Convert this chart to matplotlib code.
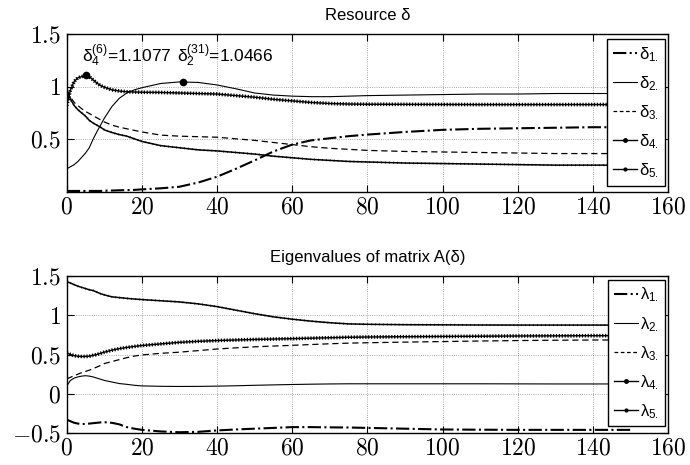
import matplotlib
matplotlib.use("Agg")
import matplotlib.pyplot as plt
from matplotlib.lines import Line2D
from matplotlib.ticker import FuncFormatter

# shared time axis (steps)
x = [0, 1, 2, 3, 4, 5, 6, 7, 8, 9, 10, 12, 14, 16, 18, 20, 25, 30, 35, 40,
     45, 50, 55, 60, 65, 70, 75, 80, 90, 100, 110, 120, 130, 140, 150]

# resource delta
d1 = [0.01, 0.01, 0.01, 0.01, 0.01, 0.01, 0.01, 0.01, 0.01, 0.01, 0.012, 0.014, 0.016, 0.018, 0.02,
      0.025, 0.035, 0.05, 0.09, 0.145, 0.22, 0.30, 0.385, 0.45, 0.49, 0.51, 0.53, 0.545, 0.57,
      0.59, 0.60, 0.605, 0.61, 0.615, 0.615]
d2 = [0.22, 0.24, 0.26, 0.29, 0.33, 0.37, 0.42, 0.50, 0.57, 0.635, 0.70, 0.81, 0.89, 0.94, 0.97,
      0.99, 1.03, 1.045, 1.04, 1.016, 0.98, 0.94, 0.92, 0.91, 0.905, 0.905, 0.91, 0.915, 0.92,
      0.925, 0.93, 0.93, 0.935, 0.935, 0.935]
d3 = [0.97, 0.90, 0.85, 0.82, 0.79, 0.765, 0.745, 0.725, 0.705, 0.685, 0.665, 0.635, 0.615, 0.60,
      0.585, 0.57, 0.54, 0.53, 0.525, 0.52, 0.505, 0.49, 0.47, 0.45, 0.43, 0.415, 0.405, 0.395,
      0.385, 0.38, 0.375, 0.37, 0.365, 0.365, 0.365]
d4 = [0.82, 0.97, 1.05, 1.085, 1.095, 1.1077, 1.095, 1.065, 1.035, 1.01, 0.995, 0.97, 0.958,
      0.952, 0.949, 0.947, 0.945, 0.94, 0.935, 0.93, 0.915, 0.90, 0.88, 0.865, 0.85, 0.84, 0.835,
      0.833, 0.832, 0.831, 0.83, 0.83, 0.83, 0.83, 0.83]
d5 = [0.97, 0.88, 0.82, 0.78, 0.75, 0.72, 0.68, 0.655, 0.635, 0.615, 0.59, 0.565, 0.545, 0.53,
      0.505, 0.48, 0.44, 0.42, 0.40, 0.39, 0.375, 0.36, 0.34, 0.325, 0.31, 0.30, 0.29, 0.285,
      0.275, 0.27, 0.265, 0.26, 0.255, 0.255, 0.255]

# eigenvalues of A(delta)
l1 = [-0.33, -0.35, -0.37, -0.38, -0.385, -0.385, -0.38, -0.375, -0.37, -0.365, -0.362, -0.37,
      -0.39, -0.425, -0.445, -0.46, -0.48, -0.49, -0.485, -0.467, -0.455, -0.445, -0.435, -0.425,
      -0.425, -0.428, -0.43, -0.435, -0.445, -0.455, -0.458, -0.46, -0.46, -0.46, -0.46]
l2 = [0.10, 0.17, 0.20, 0.215, 0.225, 0.23, 0.225, 0.215, 0.20, 0.185, 0.17, 0.15, 0.13, 0.12,
      0.108, 0.10, 0.095, 0.093, 0.094, 0.097, 0.102, 0.108, 0.113, 0.118, 0.122, 0.125, 0.127,
      0.127, 0.127, 0.127, 0.127, 0.126, 0.125, 0.125, 0.125]
l3 = [0.19, 0.21, 0.23, 0.25, 0.27, 0.285, 0.30, 0.32, 0.34, 0.36, 0.385, 0.41, 0.435, 0.46, 0.48,
      0.495, 0.515, 0.53, 0.55, 0.57, 0.585, 0.598, 0.608, 0.617, 0.627, 0.637, 0.645, 0.65,
      0.658, 0.665, 0.672, 0.678, 0.682, 0.685, 0.685]
l4 = [0.52, 0.50, 0.485, 0.478, 0.475, 0.475, 0.478, 0.49, 0.50, 0.515, 0.53, 0.555, 0.575, 0.59,
      0.603, 0.615, 0.635, 0.655, 0.668, 0.678, 0.685, 0.692, 0.697, 0.702, 0.708, 0.714, 0.72,
      0.723, 0.727, 0.73, 0.733, 0.736, 0.738, 0.74, 0.74]
l5 = [1.43, 1.41, 1.39, 1.37, 1.355, 1.34, 1.325, 1.315, 1.295, 1.275, 1.26, 1.235, 1.225, 1.215,
      1.207, 1.20, 1.185, 1.17, 1.145, 1.11, 1.065, 1.02, 0.98, 0.95, 0.925, 0.905, 0.89, 0.885,
      0.88, 0.878, 0.876, 0.875, 0.875, 0.875, 0.875]

# marked maxima
peak_x = [5, 31]
peak_y = [1.1077, 1.0466]
peak_text = [r'$\mathregular{δ_4^{(6)}}$=1.1077', r'$\mathregular{δ_2^{(31)}}$=1.0466']
text_x = [4.1, 29.3]

xticks = [0, 20, 40, 60, 80, 100, 120, 140, 160]
d_labels = [r'$\mathregular{δ_{%d.}}$' % i for i in range(1, 6)]
l_labels = [r'$\mathregular{λ_{%d.}}$' % i for i in range(1, 6)]

plt.rcParams['mathtext.fontset'] = 'cm'
plt.rcParams['font.family'] = ['Liberation Sans', 'DejaVu Sans']

fig = plt.figure(figsize=(6.9, 4.65), dpi=100)
ax1 = fig.add_axes([0.0967, 0.5871, 0.8715, 0.3398])
ax2 = fig.add_axes([0.0967, 0.0688, 0.8715, 0.3376])


def draw_series(ax, s1, s2, s3, s4, s5):
    ax.plot(x, s1, color='k', lw=1.5, linestyle='-.')
    ax.plot(x, s2, color='k', lw=0.8)
    ax.plot(x, s3, color='k', lw=0.9, dashes=(5, 3))
    # the beaded look of the marker-heavy series
    ax.plot(x, s4, color='k', lw=1.0)
    ax.plot(x, s4, color='k', lw=2.6, dashes=(0.35, 0.45))
    ax.plot(x, s5, color='k', lw=1.1)
    ax.plot(x, s5, color='k', lw=1.5, dashes=(0.3, 1.6))


def style_axes(ax, yticks, ylim):
    ax.set_xlim(0, 160)
    ax.set_ylim(*ylim)
    ax.set_xticks(xticks)
    ax.set_yticks(yticks)
    fmt = FuncFormatter(lambda v, p: '$%g$' % v)
    ax.xaxis.set_major_formatter(fmt)
    ax.yaxis.set_major_formatter(fmt)
    ax.tick_params(direction='in', top=True, right=True, length=5, width=0.8,
                   labelsize=17)
    ax.tick_params(axis='x', pad=3)
    ax.tick_params(axis='y', pad=4)
    ax.grid(True, linestyle=':', color='0.55', lw=0.6)
    for s in ax.spines.values():
        s.set_linewidth(1.0)


def add_legend(ax, labels, anchor):
    handles = [
        Line2D([], [], color='k', lw=1.5, linestyle='-.'),
        Line2D([], [], color='k', lw=0.8),
        Line2D([], [], color='k', lw=0.9, dashes=(3, 2)),
        Line2D([], [], color='k', lw=1.0, marker='.', ms=5),
        Line2D([], [], color='k', lw=1.0, marker='.', ms=4),
    ]
    leg = ax.legend(handles, labels, loc='upper right', bbox_to_anchor=anchor,
                    borderaxespad=0, fontsize=12, handlelength=1.45,
                    handletextpad=0.15, labelspacing=0.62, borderpad=0.35,
                    numpoints=1, fancybox=False, framealpha=1, edgecolor='k')
    leg.get_frame().set_linewidth(1.0)


# top panel: resources
draw_series(ax1, d1, d2, d3, d4, d5)
ax1.plot(peak_x, peak_y, 'ko', ms=4.5)
for tx, ty, t in zip(text_x, [1.234, 1.234], peak_text):
    ax1.text(tx, ty, t, fontsize=12.5, va='baseline', ha='left')
style_axes(ax1, [0.5, 1, 1.5], (0, 1.5))
ax1.set_title('Resource δ', fontsize=12, pad=10)
add_legend(ax1, d_labels, (0.995, 0.968))

# bottom panel: eigenvalues
draw_series(ax2, l1, l2, l3, l4, l5)
style_axes(ax2, [-0.5, 0, 0.5, 1, 1.5], (-0.5, 1.5))
ax2.set_title('Eigenvalues of matrix A(δ)', fontsize=12, pad=10)
add_legend(ax2, l_labels, (0.995, 0.975))

fig.savefig('out.png', dpi=100)
